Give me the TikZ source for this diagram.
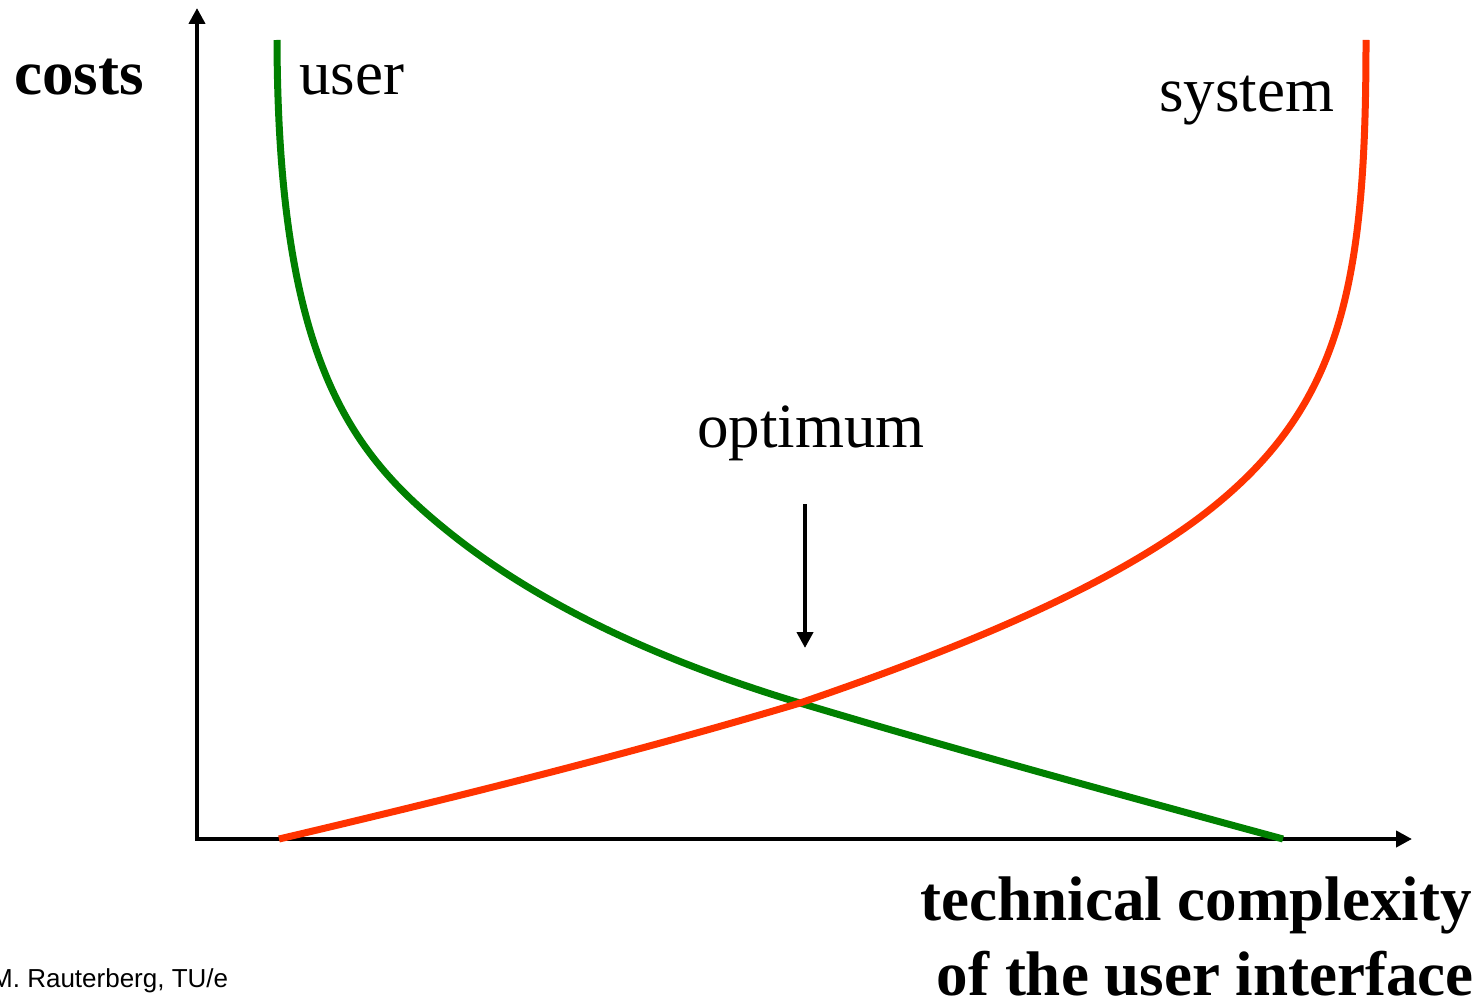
\documentclass[tikz,border=0pt]{standalone}
\usepackage{fontspec}
\setmainfont{Liberation Serif}
\newfontfamily\footfont{Liberation Sans}
\usetikzlibrary{arrows.meta}
\definecolor{usergreen}{RGB}{0,128,0}
\definecolor{sysred}{RGB}{255,51,0}
\tikzset{
  tipshape/.tip={Triangle[length=16pt,width=16pt]},
  axisline/.style={line width=4.5pt, -tipshape},
  curveline/.style={line width=7pt, line cap=butt},
  lbl/.style={inner sep=0pt, font=\fontsize{63}{70}\selectfont},
  blbl/.style={inner sep=0pt, font=\fontsize{63}{70}\selectfont\bfseries},
}
\begin{document}
\begin{tikzpicture}[x=1pt,y=-1pt]
\useasboundingbox (0,0) rectangle (1482,1003);
% axes
\coordinate (ytip) at (197,8);
\coordinate (origin) at (197,839);
\coordinate (xtip) at (1412,839);
\draw[line width=4.5pt, tipshape-tipshape, line join=miter] (ytip) -- (origin) -- (xtip);
% curve points
\coordinate (gtop) at (277,40);
\coordinate (gmid) at (450,533);
\coordinate (cross) at (800,703);
\coordinate (gend) at (1283,839);
\coordinate (rstart) at (279,839);
\coordinate (rmid) at (1213,507);
\coordinate (rtop) at (1366,40);
% user curve
\draw[curveline, usergreen] (gtop)
  .. controls (278,360) and (350,453) .. (gmid)
  .. controls (550,613) and (680,667) .. (cross)
  .. controls (960,751) and (1120,794.6) .. (gend);
% system curve
\draw[curveline, sysred] (rstart)
  .. controls (449,799) and (630,754) .. (cross)
  .. controls (940,655) and (1110,590) .. (rmid)
  .. controls (1343,402.2) and (1366,280) .. (rtop);
% labels
\node[blbl, anchor=base west] (costs) at (14,95) {costs};
\node[lbl, anchor=base west] (user) at (299,95) {user};
\node[lbl, anchor=base west] (system) at (1159,112) {system};
\node[lbl, anchor=base west] (optimum) at (697,447) {optimum};
\node[blbl, anchor=base east] (xlabel1) at (1472,920) {technical complexity};
\node[blbl, anchor=base east] (xlabel2) at (1474,995) {of the user interface};
\node[inner sep=0pt, anchor=base west, font=\footfont\fontsize{26}{30}\selectfont] (footer) at (-9,987) {M. Rauterberg, TU/e};
% optimum arrow
\coordinate (optA) at (805,504);
\coordinate (optB) at (805,648);
\draw[axisline] (optA) -- (optB);
\end{tikzpicture}
\end{document}
